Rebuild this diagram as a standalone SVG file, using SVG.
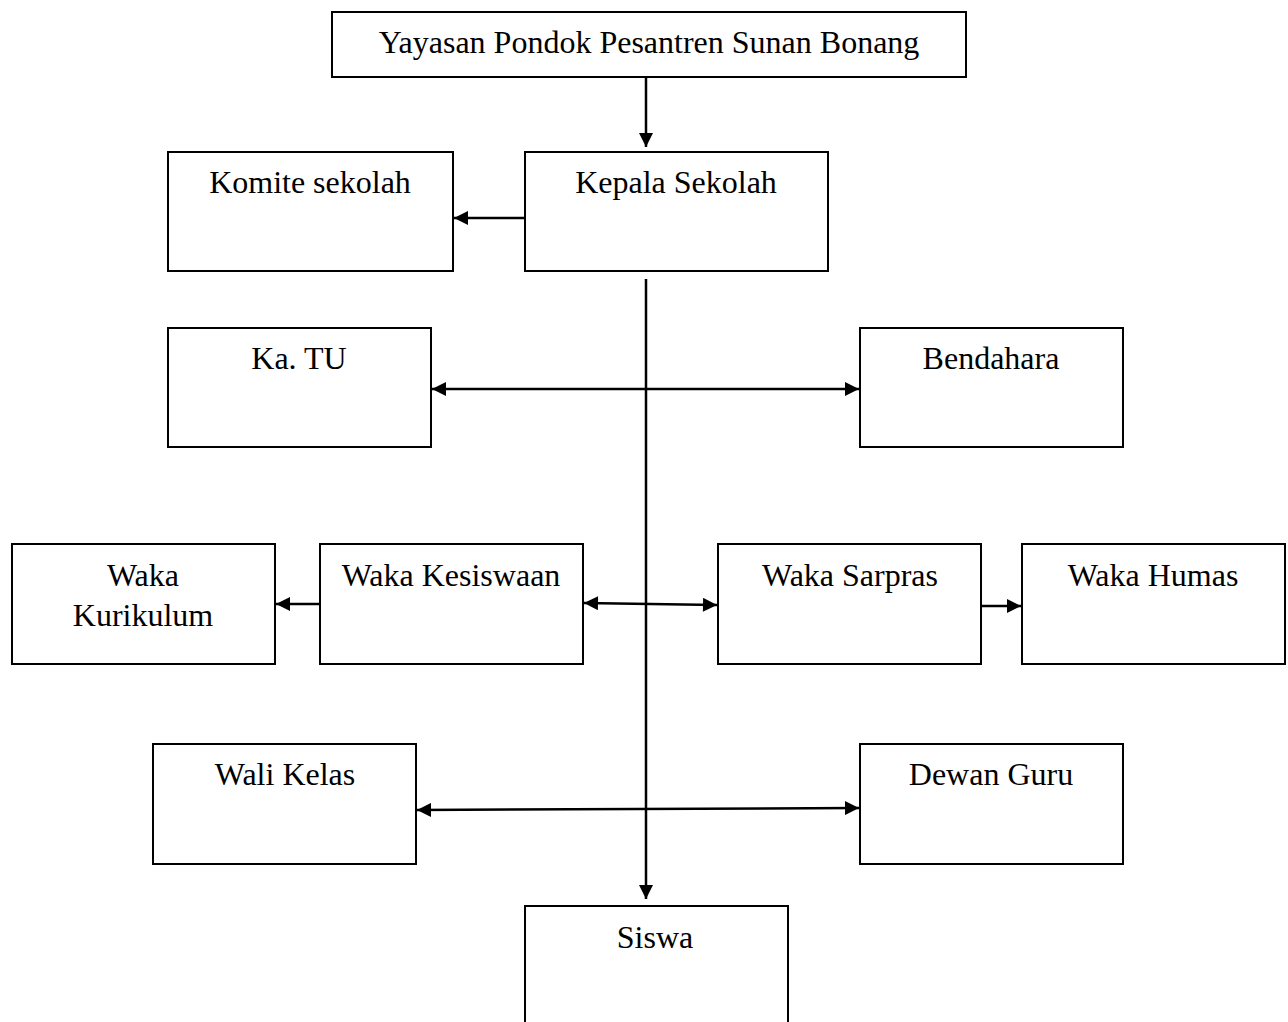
<svg xmlns="http://www.w3.org/2000/svg" width="1288" height="1022" viewBox="0 0 1288 1022">
<style>
.box{fill:#fff;stroke:#000;stroke-width:2}
.t{font-family:"Liberation Serif","Times New Roman",serif;font-size:32px;fill:#000;text-anchor:middle}
.c{stroke:#000;stroke-width:2.5;fill:none}
</style>
<defs>
<marker id="ah" viewBox="0 0 10 10" refX="10" refY="5" markerWidth="15" markerHeight="14" markerUnits="userSpaceOnUse" orient="auto-start-reverse">
<path d="M0,0 L10,5 L0,10 Z" fill="#000"/>
</marker>
</defs>
<rect width="1288" height="1022" fill="#fff"/>
<g id="n-yayasan"><rect class="box" x="332" y="12" width="634" height="65"/><text class="t" x="649" y="53">Yayasan Pondok Pesantren Sunan Bonang</text></g>
<g id="n-kepala"><rect class="box" x="525" y="152" width="303" height="119"/><text class="t" x="676" y="193">Kepala Sekolah</text></g>
<g id="n-komite"><rect class="box" x="168" y="152" width="285" height="119"/><text class="t" x="310" y="193">Komite sekolah</text></g>
<g id="n-katu"><rect class="box" x="168" y="328" width="263" height="119"/><text class="t" x="299" y="369">Ka. TU</text></g>
<g id="n-bendahara"><rect class="box" x="860" y="328" width="263" height="119"/><text class="t" x="991" y="369">Bendahara</text></g>
<g id="n-kurikulum"><rect class="box" x="12" y="544" width="263" height="120"/><text class="t" x="143" y="586">Waka</text><text class="t" x="143" y="626">Kurikulum</text></g>
<g id="n-kesiswaan"><rect class="box" x="320" y="544" width="263" height="120"/><text class="t" x="451" y="586">Waka Kesiswaan</text></g>
<g id="n-sarpras"><rect class="box" x="718" y="544" width="263" height="120"/><text class="t" x="850" y="586">Waka Sarpras</text></g>
<g id="n-humas"><rect class="box" x="1022" y="544" width="263" height="120"/><text class="t" x="1153" y="586">Waka Humas</text></g>
<g id="n-wali"><rect class="box" x="153" y="744" width="263" height="120"/><text class="t" x="285" y="785">Wali Kelas</text></g>
<g id="n-dewan"><rect class="box" x="860" y="744" width="263" height="120"/><text class="t" x="991" y="785">Dewan Guru</text></g>
<g id="n-siswa"><rect class="box" x="525" y="906" width="263" height="130"/><text class="t" x="655" y="948">Siswa</text></g>
<g id="connectors">
<line class="c" x1="646" y1="77" x2="646" y2="147" marker-end="url(#ah)"/>
<line class="c" x1="525" y1="218" x2="454" y2="218" marker-end="url(#ah)"/>
<line class="c" x1="646" y1="279" x2="646" y2="899" marker-end="url(#ah)"/>
<line class="c" x1="432" y1="389" x2="859" y2="389" marker-start="url(#ah)" marker-end="url(#ah)"/>
<line class="c" x1="320" y1="604" x2="276" y2="604" marker-end="url(#ah)"/>
<line class="c" x1="584" y1="603" x2="717" y2="605" marker-start="url(#ah)" marker-end="url(#ah)"/>
<line class="c" x1="981" y1="606" x2="1021" y2="606" marker-end="url(#ah)"/>
<line class="c" x1="417" y1="810" x2="859" y2="808" marker-start="url(#ah)" marker-end="url(#ah)"/>
</g>
</svg>
